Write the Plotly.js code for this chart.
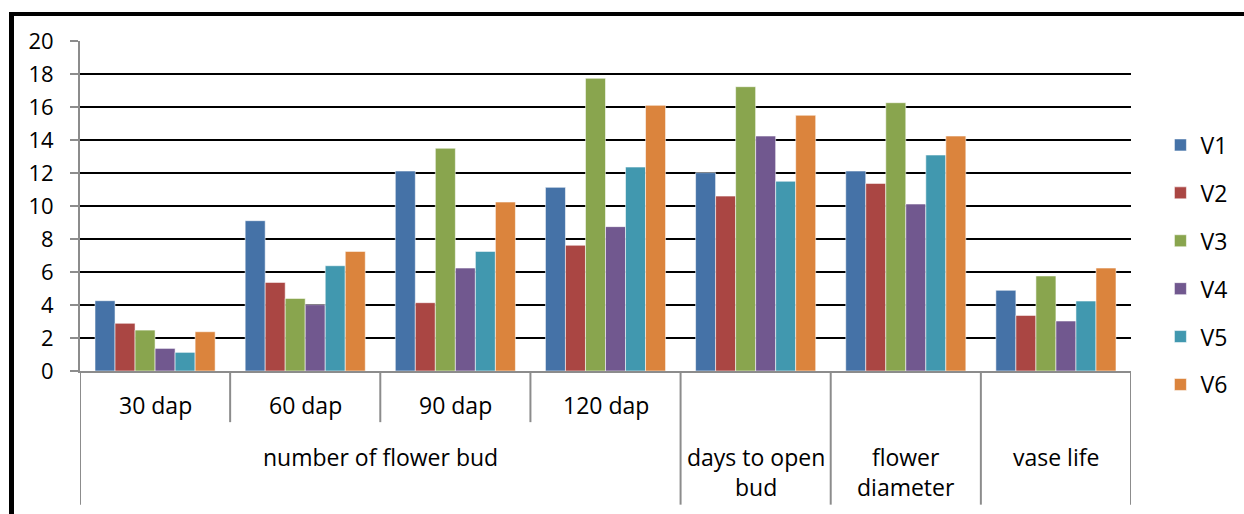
<!DOCTYPE html>
<html>
<head>
<meta charset="utf-8">
<script src="https://cdn.plot.ly/plotly-3.0.1.min.js"></script>
<style>
  html, body { margin: 0; padding: 0; background: #fff; }
  #wrap { position: relative; width: 1244px; height: 514px; overflow: hidden; }
  #chart { width: 1244px; height: 514px; }
  #frame { position: absolute; left: 9px; top: 12px; width: 1300px; height: 600px;
           border-left: 5px solid #000; border-top: 4px solid #000; pointer-events: none; }
</style>
</head>
<body>
<div id="wrap">
  <div id="chart"></div>
  <div id="frame"></div>
</div>
<script>
// ---- data ----
const categories = ["30 dap", "60 dap", "90 dap", "120 dap", "days to open bud", "flower diameter", "vase life"];
const categoryLabels = ["30 dap", "60 dap", "90 dap", "120 dap", "days to open<br>bud", "flower<br>diameter", "vase life"];
const parentLabel = "number of flower bud";
const seriesNames = ["V1", "V2", "V3", "V4", "V5", "V6"];
const V1 = [4.26, 9.11, 12.12, 11.13, 12.02, 12.12, 4.89];
const V2 = [2.89, 5.37, 4.14, 7.62, 10.60, 11.37, 3.37];
const V3 = [2.48, 4.40, 13.50, 17.74, 17.23, 16.26, 5.76];
const V4 = [1.37, 4.02, 6.24, 8.75, 14.24, 10.12, 3.03];
const V5 = [1.13, 6.38, 7.25, 12.36, 11.50, 13.09, 4.24];
const V6 = [2.38, 7.25, 10.24, 16.10, 15.50, 14.24, 6.24];
const seriesValues = [V1, V2, V3, V4, V5, V6];
const colors = ["#4572A7", "#AA4643", "#89A54E", "#71588F", "#4198AF", "#DB843D"];
const yTicks = [0, 2, 4, 6, 8, 10, 12, 14, 16, 18, 20];

const FONT = "'Open Sans', Lato, sans-serif";
const FS = 23;      // category labels
const FS_TICK = 22; // y tick labels
const FS_LEG = 23;  // legend

const traces = seriesNames.map((n, i) => ({
  type: "bar",
  name: n,
  x: categories,
  y: seriesValues[i],
  legendgroup: n,
  marker: { color: colors[i], line: { color: "rgba(255,255,255,0.55)", width: 1 } },
  hoverinfo: "x+y+name"
}));

const annotations = [];
// sub-category labels (first row), only for the first four
for (let i = 0; i < 4; i++) {
  annotations.push({ x: categories[i], y: -0.103, xref: "x", yref: "paper", text: categoryLabels[i],
    showarrow: false, xanchor: "center", yanchor: "middle", font: { family: FONT, size: FS, color: "#000" } });
}
// parent label
annotations.push({ x: 1.5, y: -0.26, xref: "x", yref: "paper", text: parentLabel,
  showarrow: false, xanchor: "center", yanchor: "middle", font: { family: FONT, size: FS, color: "#000" } });
// stand-alone categories (second row)
for (let i = 4; i < 7; i++) {
  const twoLine = categoryLabels[i].indexOf("<br>") >= 0;
  annotations.push({ x: categories[i], y: twoLine ? -0.307 : -0.26, xref: "x", yref: "paper", text: categoryLabels[i],
    showarrow: false, xanchor: "center", yanchor: "middle", font: { family: FONT, size: FS, color: "#000" } });
}

const shapes = [];
const sepColor = "#8c8c8c";
// short separators between sub-categories
[0.5, 1.5, 2.5].forEach(p => shapes.push({ type: "line", xref: "x", yref: "paper", x0: p, x1: p, y0: 0, y1: -0.155,
  line: { color: sepColor, width: 2 } }));
// long separators
[-0.5, 3.5, 4.5, 5.5, 6.5].forEach(p => shapes.push({ type: "line", xref: "x", yref: "paper", x0: p, x1: p, y0: 0, y1: -0.405,
  line: { color: sepColor, width: 2 } }));

const layout = {
  width: 1244, height: 514,
  margin: { l: 80, r: 113, t: 41, b: 143, pad: 0 },
  paper_bgcolor: "#fff", plot_bgcolor: "#fff",
  font: { family: FONT, size: FS, color: "#000" },
  barmode: "group",
  bargap: 0.2,
  bargroupgap: 0,
  showlegend: true,
  legend: {
    x: 1.028, xanchor: "left", y: 0.75, yanchor: "top",
    traceorder: "grouped", tracegroupgap: 15,
    itemwidth: 30,
    font: { family: FONT, size: FS_LEG, color: "#000" },
    bgcolor: "rgba(0,0,0,0)"
  },
  xaxis: {
    type: "category",
    categoryorder: "array", categoryarray: categories,
    range: [-0.5, 6.5],
    showticklabels: false,
    ticks: "",
    showgrid: false,
    showline: true, linecolor: sepColor, linewidth: 2,
    zeroline: false,
    fixedrange: true
  },
  yaxis: {
    range: [0, 20],
    tickvals: yTicks,
    ticktext: yTicks.map(String),
    ticks: "outside", ticklen: 8, tickwidth: 2, tickcolor: sepColor,
    ticklabelstandoff: 12,
    showgrid: true, gridcolor: "#000", gridwidth: 2,
    showline: true, linecolor: sepColor, linewidth: 2,
    zeroline: false,
    tickfont: { family: FONT, size: FS_TICK, color: "#000" },
    fixedrange: true
  },
  annotations: annotations,
  shapes: shapes
};

Plotly.newPlot("chart", traces, layout, { displayModeBar: false, staticPlot: true });
</script>
</body>
</html>
